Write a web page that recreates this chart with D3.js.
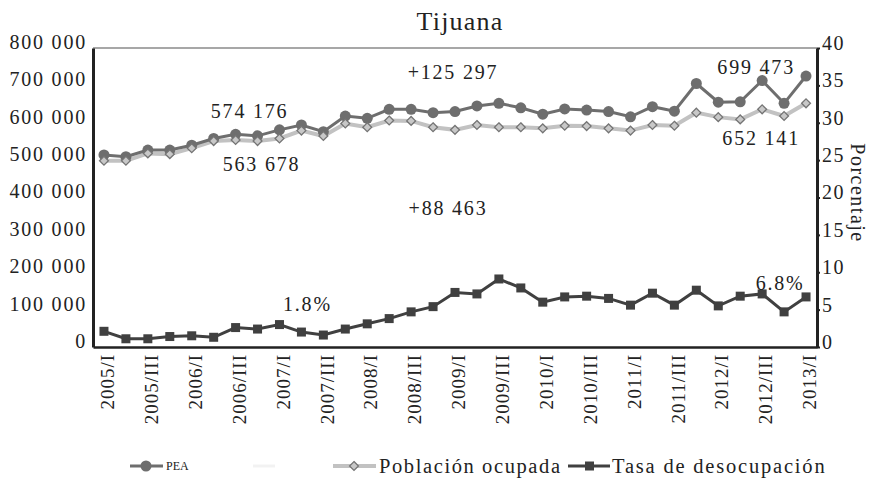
<!DOCTYPE html>
<html>
<head>
<meta charset="utf-8">
<script src="https://cdn.jsdelivr.net/npm/d3@7"></script>
<style>
  body { margin: 0; background: #fff; }
  text { font-family: "Liberation Serif", serif; fill: #222; }
</style>
</head>
<body>
<svg id="chart" width="882" height="479"></svg>
<script>
const quarters = [
  "2005/I", "2005/II", "2005/III", "2005/IV", "2006/I", "2006/II", "2006/III", "2006/IV",
  "2007/I", "2007/II", "2007/III", "2007/IV", "2008/I", "2008/II", "2008/III", "2008/IV",
  "2009/I", "2009/II", "2009/III", "2009/IV", "2010/I", "2010/II", "2010/III", "2010/IV",
  "2011/I", "2011/II", "2011/III", "2011/IV", "2012/I", "2012/II", "2012/III", "2012/IV",
  "2013/I"
];
const pea = [514000, 509000, 527000, 527000, 540000, 558000, 569000, 565000, 581000, 594000, 576000,
  618000, 612000, 636000, 636000, 627000, 630000, 645000, 652000, 640000, 623000, 637000,
  634000, 630000, 616000, 643000, 631000, 705000, 655000, 656000, 713000, 652000, 725000];
const ocupada = [498500, 498500, 518000, 516000, 532000, 551000, 554000, 551000, 558000, 579000, 564500,
  598000, 588000, 606000, 605000, 588000, 581000, 594000, 588000, 588000, 585000, 592000,
  591000, 585000, 579000, 594000, 592000, 627000, 615000, 609000, 636000, 618000, 652000];
const tasa = [2.1, 1.1, 1.1, 1.4, 1.5, 1.3, 2.6, 2.4, 3.0, 2.0, 1.6,
  2.4, 3.1, 3.8, 4.7, 5.4, 7.3, 7.1, 9.1, 7.9, 6.0, 6.7,
  6.8, 6.5, 5.6, 7.2, 5.6, 7.6, 5.5, 6.8, 7.1, 4.7, 6.7];
const leftTicks = [0, 100000, 200000, 300000, 400000, 500000, 600000, 700000, 800000];
const rightTicks = [0, 5, 10, 15, 20, 25, 30, 35, 40];
const annotations = [
  { text: "574 176", i: 6, v: 569000, dx: 14, dy: -16, axis: "left" },
  { text: "563 678", i: 7, v: 551000, dx: 4, dy: 30, axis: "left" },
  { text: "+125 297", i: 16, v: 630000, dx: -2, dy: -33, axis: "left" },
  { text: "+88 463", i: 16, v: 581000, dx: -7, dy: 85, axis: "left" },
  { text: "1.8%", i: 9, v: 3.0, dx: 6, dy: -14, axis: "right" },
  { text: "699 473", i: 30, v: 713000, dx: -6, dy: -7, axis: "left" },
  { text: "652 141", i: 30, v: 636000, dx: -1, dy: 36, axis: "left" },
  { text: "6.8%", i: 31, v: 7.1, dx: -4, dy: -4, axis: "right" }
];

const svg = d3.select("#chart");
const margin = { top: 48, right: 65, bottom: 132, left: 93 };
const width = 882 - margin.left - margin.right;
const height = 479 - margin.top - margin.bottom;

const g = svg.append("g").attr("transform", `translate(${margin.left},${margin.top})`);

const x = d3.scalePoint().domain(quarters).range([0, width]).padding(0.5);
const yLeft = d3.scaleLinear().domain([0, 800000]).range([height, 0]);
const yRight = d3.scaleLinear().domain([0, 40]).range([height, 0]);
const fmt = d3.formatLocale({ decimal: ".", thousands: " ", grouping: [3], currency: ["", ""] }).format(",");

// Título
svg.append("text")
  .attr("x", 460).attr("y", 30)
  .attr("text-anchor", "middle")
  .style("font-size", "26px").style("letter-spacing", "1.2px")
  .text("Tijuana");

// marco superior
g.append("line")
  .attr("x1", 0).attr("x2", width).attr("y1", 0).attr("y2", 0)
  .attr("stroke", "#8a8a8a").attr("stroke-width", 1.5);

// Eje izquierdo
const axL = g.append("g").call(d3.axisLeft(yLeft).tickValues(leftTicks).tickSize(0).tickPadding(6).tickFormat(fmt));
axL.select(".domain").attr("stroke", "#222").attr("stroke-width", 3);
axL.selectAll("text").attr("y", -6).style("font-size", "20px").style("letter-spacing", "1.8px")
  .style("font-family", "Liberation Serif, serif").attr("fill", "#222");

// Eje derecho
const axR = g.append("g").attr("transform", `translate(${width},0)`)
  .call(d3.axisRight(yRight).tickValues(rightTicks).tickSize(3).tickPadding(2).tickSizeOuter(0));
axR.select(".domain").attr("stroke", "#222").attr("stroke-width", 3);
axR.selectAll("line").attr("stroke", "#222").attr("stroke-width", 2);
axR.selectAll("text").attr("y", -5).style("font-size", "20px").style("letter-spacing", "1.5px")
  .style("font-family", "Liberation Serif, serif").attr("fill", "#222");

svg.append("text")
  .attr("transform", `translate(851,193) rotate(90)`)
  .attr("text-anchor", "middle")
  .style("font-size", "20px").style("letter-spacing", "1.5px")
  .text("Porcentaje");

// Eje X
const axB = g.append("g").attr("transform", `translate(0,${height})`)
  .call(d3.axisBottom(x).tickValues(quarters.filter((d, i) => i % 2 === 0)).tickSize(0).tickSizeOuter(0));
axB.select(".domain").attr("stroke", "#222").attr("stroke-width", 2.5);
axB.selectAll("text")
  .attr("transform", "rotate(-90)")
  .attr("x", -7).attr("y", 3).attr("dy", "0.35em")
  .attr("text-anchor", "end")
  .style("font-size", "19px").style("letter-spacing", "1px")
  .style("font-family", "Liberation Serif, serif").attr("fill", "#222");

// Líneas
const linePea = d3.line().x((d, i) => x(quarters[i])).y(d => yLeft(d));
const lineTasa = d3.line().x((d, i) => x(quarters[i])).y(d => yRight(d));

g.append("path").datum(ocupada)
  .attr("fill", "none").attr("stroke", "#c2c2c2").attr("stroke-width", 4)
  .attr("d", linePea);

g.append("path").datum(pea)
  .attr("fill", "none").attr("stroke", "#6e6e6e").attr("stroke-width", 3)
  .attr("d", linePea);

g.selectAll(".pea-dot").data(pea).enter().append("circle")
  .attr("cx", (d, i) => x(quarters[i])).attr("cy", d => yLeft(d))
  .attr("r", 5.5).attr("fill", "#6e6e6e");

g.selectAll(".ocu-dot").data(ocupada).enter().append("path")
  .attr("transform", (d, i) => `translate(${x(quarters[i])},${yLeft(d)})`)
  .attr("d", d3.symbol(d3.symbolDiamond2, 50))
  .attr("fill", "#c8c8c8").attr("stroke", "#747474").attr("stroke-width", 1.3);

g.append("path").datum(tasa)
  .attr("fill", "none").attr("stroke", "#404040").attr("stroke-width", 3)
  .attr("d", lineTasa);

g.selectAll(".tasa-dot").data(tasa).enter().append("rect")
  .attr("x", (d, i) => x(quarters[i]) - 4.5).attr("y", d => yRight(d) - 4.5)
  .attr("width", 9).attr("height", 9).attr("fill", "#404040");

// Anotaciones
annotations.forEach(a => {
  const sc = a.axis === "left" ? yLeft : yRight;
  g.append("text")
    .attr("x", x(quarters[a.i]) + a.dx)
    .attr("y", sc(a.v) + a.dy)
    .attr("text-anchor", "middle")
    .style("font-size", "20px").style("letter-spacing", "1.8px")
    .text(a.text);
});

// Leyenda
const legend = svg.append("g").attr("transform", "translate(0,466)");

legend.append("line").attr("x1", 130).attr("x2", 163).attr("stroke", "#6e6e6e").attr("stroke-width", 3);
legend.append("circle").attr("cx", 146).attr("cy", 0).attr("r", 5.5).attr("fill", "#6e6e6e");
legend.append("text").attr("x", 166).attr("y", 4).style("font-size", "12px").text("PEA");

legend.append("line").attr("x1", 253).attr("x2", 275).attr("stroke", "#f2f2f2").attr("stroke-width", 3);

legend.append("line").attr("x1", 333).attr("x2", 376).attr("stroke", "#c2c2c2").attr("stroke-width", 4);
legend.append("path").attr("transform", "translate(354,0)")
  .attr("d", d3.symbol(d3.symbolDiamond2, 50))
  .attr("fill", "#c8c8c8").attr("stroke", "#747474").attr("stroke-width", 1.3);
legend.append("text").attr("x", 379).attr("y", 7).style("font-size", "20.5px").style("letter-spacing", "1.6px")
  .text("Población ocupada");

legend.append("line").attr("x1", 568).attr("x2", 610).attr("stroke", "#404040").attr("stroke-width", 3);
legend.append("rect").attr("x", 585).attr("y", -4.5).attr("width", 9).attr("height", 9).attr("fill", "#404040");
legend.append("text").attr("x", 612).attr("y", 7).style("font-size", "20.5px").style("letter-spacing", "1.8px")
  .text("Tasa de desocupación");
</script>
</body>
</html>
